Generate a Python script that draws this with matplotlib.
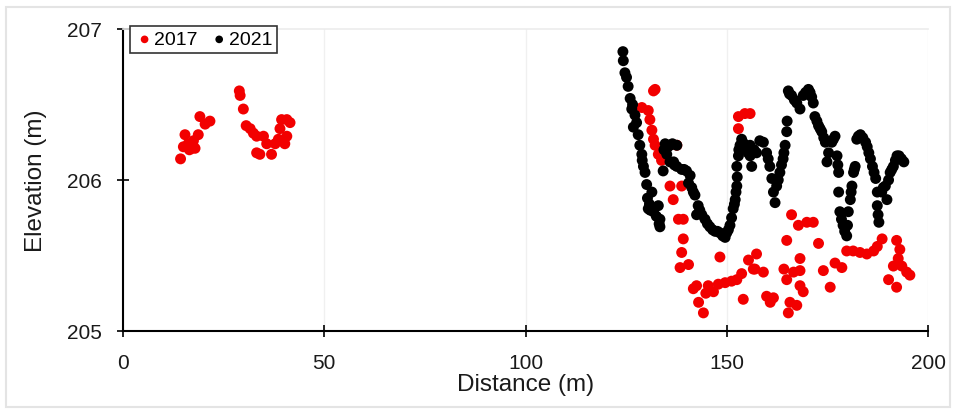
import matplotlib
matplotlib.use("Agg")
import matplotlib.pyplot as plt
from matplotlib.patches import Rectangle

plt.rcParams['font.family'] = ['Liberation Sans', 'DejaVu Sans']

# Survey profile 2017 (distance m, elevation m)
dist_2017 = [14.3, 15.0, 15.4, 16.2, 17.1, 17.9, 17.5, 18.7, 19.1, 20.4, 21.6, 16.5,
             28.9, 29.1, 29.9, 30.6, 31.6, 33.2, 33.2, 34.0, 34.9, 35.7, 36.9, 37.8,
             38.6, 39.0, 39.4, 40.7, 41.5, 40.7, 40.2, 32.4,
             128.9, 130.5, 130.9, 131.4, 131.8, 132.2, 131.8, 132.2, 133.0, 133.8,
             137.6, 135.9, 138.8, 136.7, 138.0, 139.2, 139.2, 138.8, 138.4, 140.5,
             141.7, 143.0, 144.2, 145.4, 146.7, 147.9, 148.3, 149.6, 151.2, 152.5,
             153.7, 154.1, 155.4, 157.0, 157.4, 152.9, 154.5, 152.9, 155.8, 156.6,
             159.1, 159.9, 160.8, 161.6, 164.2, 164.9, 164.9, 166.1, 166.6, 167.8,
             168.2, 168.2, 169.0, 165.7, 165.3, 167.4, 169.9, 171.5, 172.8, 174.0,
             175.7, 176.9, 178.6, 179.8, 181.4, 183.1, 184.8, 186.5, 187.4, 188.6,
             192.2, 193.0, 192.6, 193.5, 194.7, 195.5, 191.4, 190.2, 192.2, 168.2,
             142.5, 144.8]
elev_2017 = [206.14, 206.22, 206.30, 206.24, 206.21, 206.21, 206.26, 206.30, 206.42, 206.37, 206.39, 206.20,
             206.59, 206.56, 206.47, 206.36, 206.34, 206.29, 206.18, 206.17, 206.29, 206.24, 206.17, 206.24,
             206.27, 206.34, 206.40, 206.40, 206.38, 206.29, 206.24, 206.31,
             206.48, 206.46, 206.40, 206.33, 206.59, 206.60, 206.27, 206.23, 206.17, 206.13,
             206.23, 205.96, 205.96, 205.87, 205.74, 205.74, 205.61, 205.52, 205.42, 205.44,
             205.28, 205.19, 205.12, 205.30, 205.26, 205.31, 205.49, 205.32, 205.33, 205.34,
             205.38, 205.21, 205.47, 205.41, 205.51, 206.42, 206.44, 206.34, 206.44, 205.41,
             205.39, 205.23, 205.19, 205.22, 205.41, 205.34, 205.60, 205.77, 205.39, 205.70,
             205.48, 205.30, 205.26, 205.19, 205.12, 205.17, 205.72, 205.72, 205.58, 205.40,
             205.29, 205.45, 205.42, 205.53, 205.53, 205.52, 205.51, 205.53, 205.56, 205.61,
             205.60, 205.54, 205.48, 205.43, 205.39, 205.37, 205.43, 205.34, 205.29, 205.40,
             205.30, 205.25]

# Survey profile 2021 (distance m, elevation m)
dist_2021 = [124.2, 124.3, 124.7, 125.1, 125.5, 126.0, 126.4, 127.2, 126.8, 128.0,
             128.4, 128.9, 129.3, 129.7, 130.1, 131.4, 130.5, 131.8, 133.0, 133.4,
             133.4, 134.7, 135.9, 137.6, 135.1, 135.9, 134.2, 137.6, 138.8, 140.0,
             140.9, 140.5, 141.3, 142.1, 142.9, 142.5, 143.8, 144.6, 145.8, 147.1,
             148.3, 149.6, 150.0, 150.8, 151.2, 151.6, 152.1, 152.5, 152.5, 152.9,
             153.3, 153.7, 154.9, 155.8, 156.2, 157.4, 155.8, 159.1, 159.9, 160.7,
             161.2, 161.6, 162.0, 162.4, 163.2, 164.0, 164.5, 164.9, 165.0, 165.3,
             166.1, 167.4, 168.2, 169.0, 170.3, 171.1, 171.5, 171.9, 172.8, 173.6,
             174.5, 175.3, 174.9, 176.1, 176.9, 177.4, 177.8, 177.8, 178.1, 178.9,
             179.8, 180.2, 180.7, 181.1, 181.5, 181.9, 182.3, 183.2, 184.5, 185.3,
             186.2, 187.0, 187.4, 187.4, 187.8, 188.5, 189.4, 189.8, 190.6, 191.4,
             192.3, 193.4, 194.0,
             126.6, 127.6, 129.0, 130.3, 130.8, 131.0, 132.5, 133.2, 134.4, 135.4,
             136.5, 136.8, 137.0, 139.4, 141.7, 143.3, 145.2, 146.5, 147.7, 149.0,
             150.4, 151.9, 152.3, 152.6, 153.0, 154.3, 155.3, 156.8, 158.2, 160.3,
             162.8, 163.6, 164.2, 165.6, 166.8, 169.6, 170.7, 172.4, 173.2, 174.1,
             176.5, 177.6, 178.5, 179.3, 180.0, 180.9, 181.7, 182.7, 183.8, 184.9,
             185.7, 186.6, 187.6, 188.9, 190.2, 191.0, 191.9, 192.8]
elev_2021 = [206.85, 206.79, 206.71, 206.68, 206.62, 206.54, 206.47, 206.43, 206.35, 206.30,
             206.23, 206.17, 206.09, 206.05, 205.97, 205.92, 205.81, 205.79, 205.83, 205.74,
             205.69, 206.24, 206.23, 206.23, 206.17, 206.12, 206.06, 206.09, 206.07, 206.06,
             206.03, 205.98, 205.95, 205.90, 205.83, 205.77, 205.77, 205.74, 205.69, 205.66,
             205.65, 205.62, 205.65, 205.70, 205.75, 205.81, 205.87, 205.96, 206.09, 206.16,
             206.23, 206.27, 206.21, 206.16, 206.09, 206.18, 206.23, 206.25, 206.18, 206.09,
             206.01, 205.92, 205.85, 205.96, 206.05, 206.14, 206.23, 206.32, 206.39, 206.59,
             206.56, 206.51, 206.47, 206.56, 206.60, 206.55, 206.51, 206.42, 206.36, 206.32,
             206.25, 206.18, 206.12, 206.25, 206.29, 206.16, 206.05, 205.92, 205.79, 205.70,
             205.63, 205.79, 205.87, 205.96, 206.05, 206.09, 206.27, 206.30, 206.25, 206.18,
             206.09, 206.01, 205.92, 205.83, 205.72, 205.92, 205.96, 205.87, 206.05, 206.09,
             206.16, 206.14, 206.12,
             206.50, 206.38, 206.13, 205.88, 205.84, 205.80, 205.76, 205.71, 206.20, 206.22,
             206.24, 206.12, 206.10, 206.07, 205.92, 205.80, 205.71, 205.67, 205.66, 205.63,
             205.67, 205.84, 205.92, 206.02, 206.20, 206.24, 206.18, 206.20, 206.26, 206.14,
             206.00, 206.10, 206.18, 206.57, 206.53, 206.58, 206.58, 206.39, 206.34, 206.28,
             206.27, 206.10, 205.74, 205.66, 205.70, 205.92, 206.07, 206.29, 206.28, 206.22,
             206.14, 206.05, 205.77, 205.95, 206.00, 206.07, 206.13, 206.16]

x_ticks = [0, 50, 100, 150, 200]
y_ticks = [205, 206, 207]

fig = plt.figure(figsize=(9.56, 4.10), dpi=100)
ax = fig.add_axes([123 / 956, 78 / 410, 805 / 956, 302 / 410])

ax.scatter(dist_2017, elev_2017, s=62, color='#f20000', edgecolors='none', label='2017', zorder=3)
ax.scatter(dist_2021, elev_2021, s=62, color='black', edgecolors='none', label='2021', zorder=3)

ax.set_xlim(0, 200)
ax.set_ylim(205, 207)
ax.set_xticks(x_ticks)
ax.set_yticks(y_ticks)
ax.tick_params(direction='inout', length=9, width=1.2, labelsize=15, color='black',
               labelcolor='#1a1a1a')
ax.tick_params(axis='x', pad=11)
ax.tick_params(axis='y', pad=11)

ax.grid(axis='x', color='#f0f0f0', linewidth=1)
ax.set_axisbelow(True)

for side in ('left', 'bottom'):
    ax.spines[side].set_linewidth(1.5)
ax.spines['right'].set_visible(False)
ax.spines['top'].set_color('#ececec')
ax.spines['top'].set_linewidth(1.2)

ax.set_xlabel('Distance (m)', fontsize=17.5, labelpad=1, color='#1a1a1a')
ax.set_ylabel('Elevation (m)', fontsize=17.5, labelpad=14, color='#1a1a1a')

leg = ax.legend(loc='upper left', bbox_to_anchor=(130 / 956, 1 - 27 / 410),
                bbox_transform=fig.transFigure, ncol=2, fontsize=14,
                frameon=True, fancybox=False, borderaxespad=0, handletextpad=0.0,
                columnspacing=0.6, borderpad=0.25, markerscale=0.7, handlelength=1.0)
leg.get_frame().set_edgecolor('black')
leg.get_frame().set_linewidth(1.2)

# thin light frame around the whole figure
fig.patches.append(Rectangle((6 / 956, 2 / 410), 944 / 956, 400 / 410,
                             transform=fig.transFigure, fill=False,
                             edgecolor='#e4e4e4', linewidth=1.5))

fig.savefig('out.png', dpi=100)
